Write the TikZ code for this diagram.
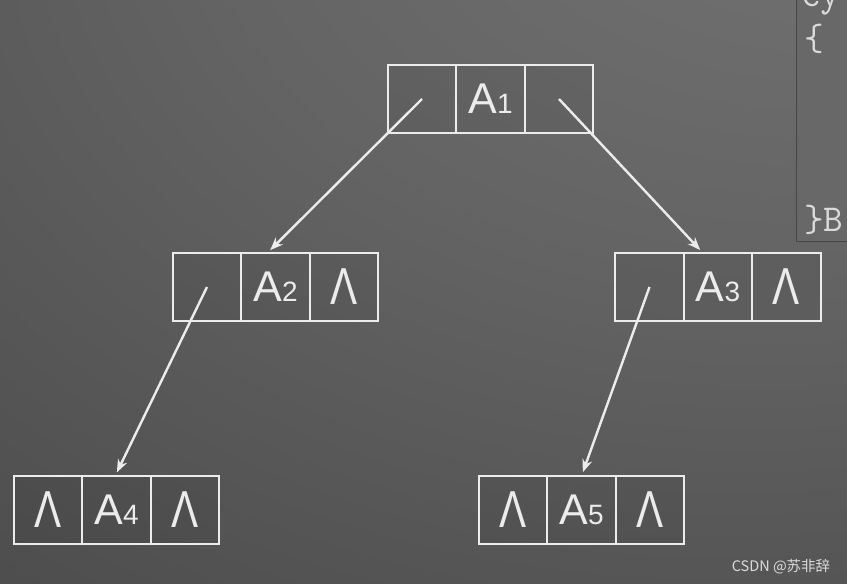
\documentclass[tikz,border=0pt]{standalone}
\usepackage{fontspec}
\setmainfont{Liberation Sans}
\newfontfamily\cjk{Noto Sans CJK SC}
\usepackage{tikz}
\usetikzlibrary{positioning}
\usetikzlibrary{arrows.meta,calc}
\definecolor{lineclr}{RGB}{236,236,236}
\definecolor{codeclr}{RGB}{218,218,218}
\definecolor{panelclr}{RGB}{104,104,104}
\pgfdeclareradialshading{bgshade}{\pgfpoint{30bp}{50bp}}{%
  rgb(0bp)=(0.47,0.47,0.47); rgb(35bp)=(0.39,0.39,0.39);
  rgb(85bp)=(0.24,0.24,0.24); rgb(125bp)=(0.165,0.165,0.165)}
\tikzstyle{cell} = [rectangle, draw=lineclr, line width=2.4pt, minimum width=68.5pt, minimum height=68pt, inner sep=0pt, outer sep=0pt, text=lineclr, fill=black, fill opacity=0.05, text opacity=1]
\tikzstyle{link} = [draw=lineclr, line width=2.4pt, shorten >=4pt, -{Stealth[length=13pt,width=10pt]}]
\newcommand{\nullmark}{\scalebox{0.78}[1]{\fontsize{52}{52}\selectfont Λ}}
\newcommand{\elem}[1]{{\fontsize{43}{43}\selectfont A}{\fontsize{28}{28}\selectfont #1}}

\begin{document}
\begin{tikzpicture}[x=1pt,y=-1pt]
	\useasboundingbox (0,0) rectangle (847,584);
	\shade[shading=bgshade] (0,0) rectangle (847,584);
	% code panel at the right edge
	\begin{scope}
		\clip (0,0) rectangle (847,584);
		\fill[panelclr, draw=black!45!gray, line width=0.8pt] (796,-5) rectangle (852,241);
		\node[anchor=base west, inner sep=0pt, text=codeclr, font=\ttfamily\fontsize{38}{38}\selectfont] (code0) at (801,6) {cy};
		\node[anchor=base west, inner sep=0pt, text=codeclr, font=\ttfamily\fontsize{38}{38}\selectfont] (code1) at (804,50) {\{};
		\node[anchor=base west, inner sep=0pt, text=codeclr, font=\ttfamily\fontsize{38}{38}\selectfont] (code2) at (804,231) {\}B};
	\end{scope}
	% records
	\node[cell] (a1l) at (422,99) {};
	\node[cell, right=0pt of a1l] (a1m) {\elem{1}};
	\node[cell, right=0pt of a1m] (a1r) {};
	\node[cell] (a2l) at (207,287) {};
	\node[cell, right=0pt of a2l] (a2m) {\elem{2}};
	\node[cell, right=0pt of a2m] (a2r) {\nullmark};
	\node[cell] (a3l) at (649.5,287) {};
	\node[cell, right=0pt of a3l] (a3m) {\elem{3}};
	\node[cell, right=0pt of a3m] (a3r) {\nullmark};
	\node[cell] (a4l) at (48,510) {\nullmark};
	\node[cell, right=0pt of a4l] (a4m) {\elem{4}};
	\node[cell, right=0pt of a4m] (a4r) {\nullmark};
	\node[cell] (a5l) at (513,510) {\nullmark};
	\node[cell, right=0pt of a5l] (a5m) {\elem{5}};
	\node[cell, right=0pt of a5m] (a5r) {\nullmark};
	% pointers
	\foreach \from/\to/\t in {a1l/a2m/0.38,a1r/a3m/0.28,a2l/a4m/0.48,a3l/a5m/0.5}
		\draw[link] (\from.center) -- ($(\to.north west)!\t!(\to.north east)$);
	\node[text=codeclr, font=\cjk\fontsize{14.5}{14.5}\selectfont] (mark) at (781,567) {CSDN @苏非辞};
\end{tikzpicture}
\end{document}
